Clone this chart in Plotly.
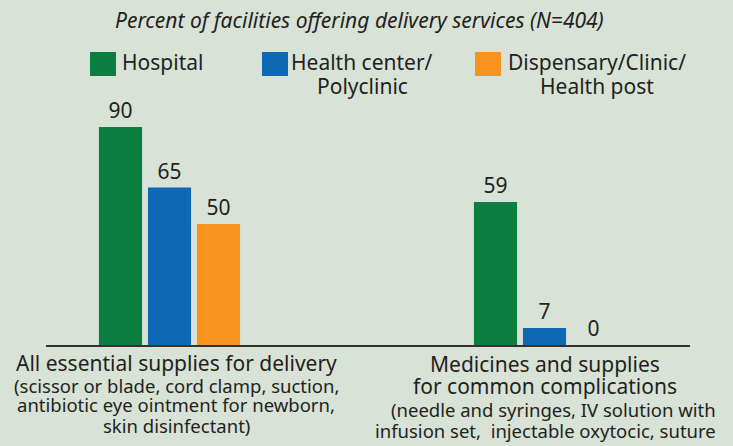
import plotly.graph_objects as go

# ---- data ----
categories = [0, 1]
series_names = ["Hospital", "Health center/<br>Polyclinic", "Dispensary/Clinic/<br>Health post"]
hospital = [90, 59]
health_center = [65, 7]
dispensary = [50, 0]
cat_main = [["All essential supplies for delivery"],
            ["Medicines and supplies", "for common complications"]]
cat_sub = [["(scissor or blade, cord clamp, suction,",
            "antibiotic eye ointment for newborn,",
            "skin disinfectant)"],
           ["(needle and syringes, IV solution with",
            "infusion set,  injectable oxytocic, suture"]]
title_text = "Percent of facilities offering delivery services (N=404)"

colors = ["#0c7f40", "#0f68b4", "#f7931e"]
BG = "#d8e2d6"
TXT = "#231f20"
FONT = "Noto Sans"

W, H = 733, 446
L, R, T, B = 46, 690, 100, 345


def px(X):
    return (X - L) / (R - L)


def py(Y):
    return (B - Y) / (B - T)


fig = go.Figure()
for name, vals, c in zip(series_names, [hospital, health_center, dispensary], colors):
    fig.add_trace(go.Bar(
        x=categories, y=vals, name=name, marker=dict(color=c, line=dict(width=0)),
        text=[str(v) for v in vals], textposition="outside",
        textfont=dict(family=FONT, size=21, color=TXT), cliponaxis=False,
        showlegend=False, hoverinfo="skip",
    ))

annotations = []
shapes = []

# title
annotations.append(dict(text="<i>" + title_text + "</i>", x=px(359), y=py(20), xref="paper", yref="paper",
                        showarrow=False, xanchor="center", yanchor="middle",
                        font=dict(family=FONT, size=21, color=TXT)))

# legend (squares + labels)
leg_sq_x = [90, 262, 475]
leg_txt_cx = [162, 362, 597]
for i in range(3):
    shapes.append(dict(type="rect", xref="paper", yref="paper",
                       x0=px(leg_sq_x[i]), x1=px(leg_sq_x[i] + 26), y0=py(76), y1=py(52),
                       fillcolor=colors[i], line=dict(width=0)))
    lines = series_names[i].split("<br>")
    for j, ln in enumerate(lines):
        annotations.append(dict(text=ln, x=px(leg_txt_cx[i]), y=py(62 + 24 * j), xref="paper", yref="paper",
                                showarrow=False, xanchor="center", yanchor="middle",
                                font=dict(family=FONT, size=21, color=TXT)))

# category labels
main_centers = [[363], [364, 386]]
sub_centers = [[385, 404, 425], [409, 430]]
sub_cx = [[176, 176, 176], [553, 545]]
label_cx = [176, 545]
for k in range(2):
    for ln, yc in zip(cat_main[k], main_centers[k]):
        annotations.append(dict(text=ln, x=px(label_cx[k]), y=py(yc), xref="paper", yref="paper",
                                showarrow=False, xanchor="center", yanchor="middle",
                                font=dict(family=FONT, size=21, color=TXT)))
    for ln, yc, cx in zip(cat_sub[k], sub_centers[k], sub_cx[k]):
        annotations.append(dict(text=ln, x=px(cx), y=py(yc), xref="paper", yref="paper",
                                showarrow=False, xanchor="center", yanchor="middle",
                                font=dict(family=FONT, size=18.5, color=TXT)))

# x range so that category 0 centre -> 169.5 px, category 1 centre -> 544.5 px
ppu = 544.5 - 169.5
x0 = (L - 169.5) / ppu
x1 = (R - 169.5) / ppu
yppu = (B - 127) / 90.0
ymax = (B - T) / yppu

fig.update_layout(
    width=W, height=H,
    margin=dict(l=L, r=W - R, t=T, b=H - B, pad=0),
    paper_bgcolor=BG, plot_bgcolor=BG,
    barmode="group", bargap=0.608, bargroupgap=0.12,
    xaxis=dict(range=[x0, x1], showgrid=False, zeroline=False, showticklabels=False,
               showline=True, linecolor="#333333", linewidth=1.5, ticks=""),
    yaxis=dict(range=[0, ymax], visible=False, showgrid=False, zeroline=False),
    annotations=annotations, shapes=shapes,
    showlegend=False,
)

fig.write_html("out.html",
               config={"displayModeBar": False, "staticPlot": True},
               post_script="document.body.style.margin='0';document.body.style.padding='0';"
                           "document.body.style.overflow='hidden';"
                           "document.documentElement.style.background='" + BG + "';")
